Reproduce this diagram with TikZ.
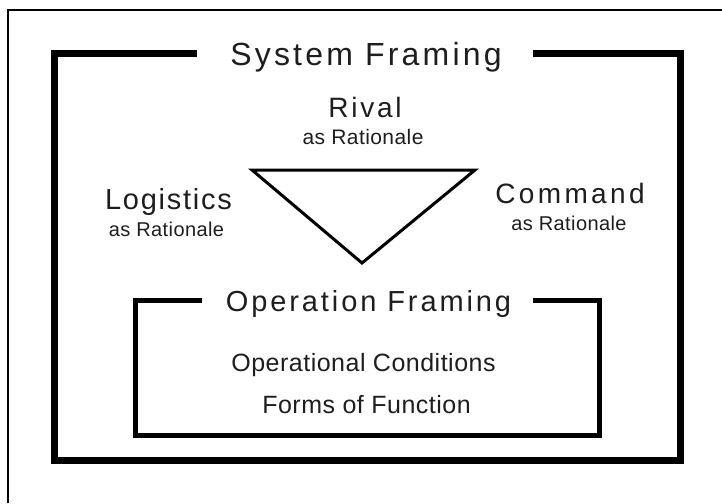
\documentclass[tikz,border=0pt]{standalone}
\usepackage{fontspec}
\setmainfont{Liberation Sans}
\definecolor{ink}{HTML}{1E1E1E}
\tikzset{
  lbl/.style={anchor=base, inner sep=0pt, text=ink},
  big/.style={lbl, font={\fontsize{#1}{#1}\selectfont\addfontfeature{LetterSpace=10}}},
  small/.style={lbl, font={\fontsize{#1}{#1}\selectfont\addfontfeature{LetterSpace=2}}},
  thickframe/.style={line width=7pt, line join=miter, draw=black},
  innerframe/.style={line width=5pt, line join=miter, draw=black},
  tri/.style={line width=3pt, line join=miter, draw=black},
  border/.style={line width=2pt, draw=black}
}
\begin{document}
\begin{tikzpicture}[x=1pt,y=-1pt]
\useasboundingbox (0,0) rectangle (722,503);
\fill[white] (0,0) rectangle (722,503);
% thin page border (left and top visible)
\draw[border] (8,503) -- (8,10) -- (722,10);
% outer system frame
\coordinate (sfL) at (197,53.5);
\coordinate (sfR) at (533,53.5);
\draw[thickframe] (sfL) -- (54,53.5) -- (54,460) -- (680,460) -- (680,53.5) -- (sfR);
% inner operation frame
\coordinate (ofL) at (202,300);
\coordinate (ofR) at (533,300);
\draw[innerframe] (ofL) -- (135.5,300) -- (135.5,435.5) -- (599,435.5) -- (599,300) -- (ofR);
% triangle
\coordinate (t1) at (252,170);
\coordinate (t2) at (475,170);
\coordinate (t3) at (362,263);
\draw[tri] (t1) -- (t2) -- (t3) -- cycle;
% labels
\node[big=32] (system) at (366,66) {System Framing};
\node[big=28] (rival) at (365,117) {Rival};
\node[small=21] (rivalr) at (363,144) {as Rationale};
\node[lbl, font={\fontsize{29}{29}\selectfont\addfontfeature{LetterSpace=6}}] (logi) at (168.5,209) {Logistics};
\node[small=20] (logir) at (166.5,236) {as Rationale};
\node[lbl, font={\fontsize{28}{28}\selectfont\addfontfeature{LetterSpace=12}}] (cmd) at (570,203) {Command};
\node[small=20] (cmdr) at (569,230) {as Rationale};
\node[big=29] (opf) at (368.5,311) {Operation Framing};
\node[small=25] (opc) at (363.5,371) {Operational Conditions};
\node[small=25] (fof) at (366.5,413) {Forms of Function};
\end{tikzpicture}
\end{document}
